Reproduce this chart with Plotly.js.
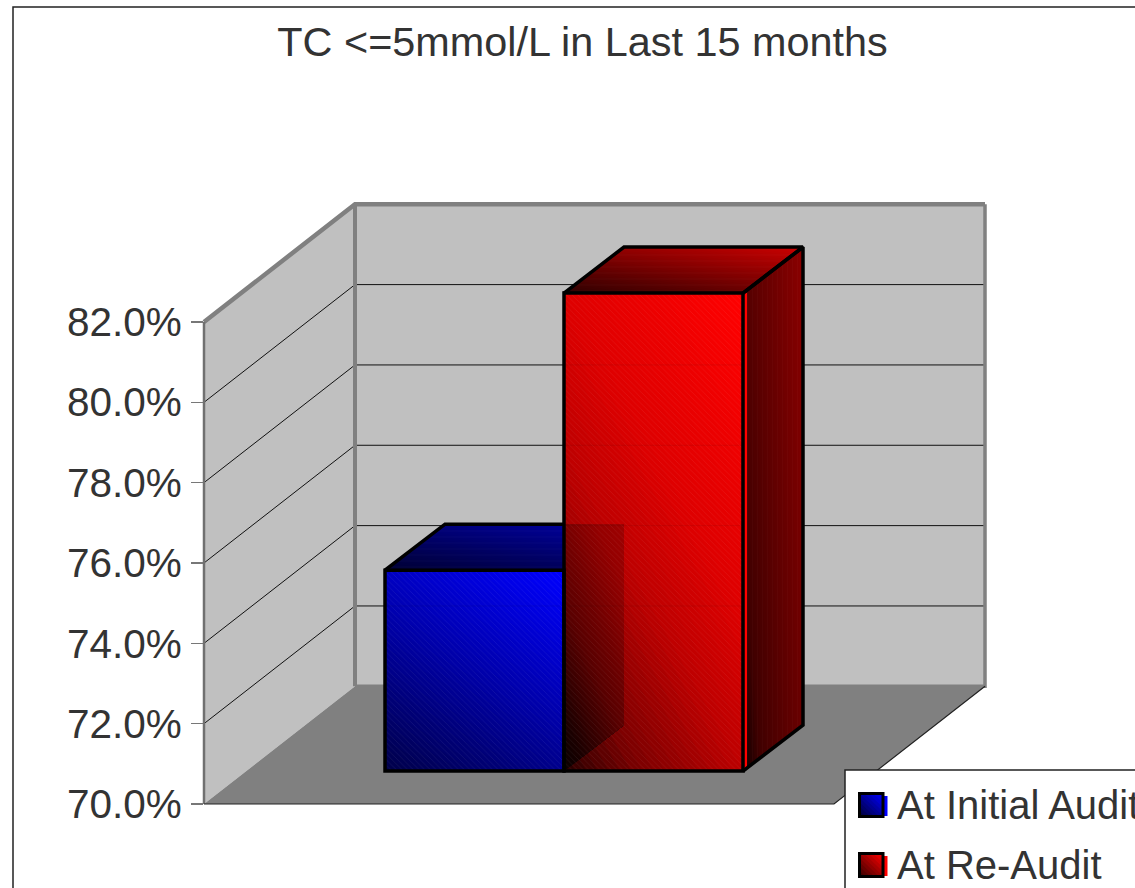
<!DOCTYPE html>
<html>
<head>
<meta charset="utf-8">
<script src="https://cdn.plot.ly/plotly-3.0.1.min.js"></script>
<style>html,body{margin:0;padding:0;background:#fff;overflow:hidden}#chart{width:1135px;height:888px}</style>
</head>
<body>
<div id="chart"></div>
<script>
// ---- data ----
const seriesNames = ['At Initial Audit', 'At Re-Audit'];
const seriesValues = [75.0, 81.9];
const tickValues = [70, 72, 74, 76, 78, 80, 82];
const tickLabels = ['70.0%', '72.0%', '74.0%', '76.0%', '78.0%', '80.0%', '82.0%'];
const chartTitle = 'TC <=5mmol/L in Last 15 months';

// ---- drawing geometry (x axis is in plot units, y axis is in percent) ----
const W = 1135, H = 888;
const PX_PER_UNIT = 40.17, Y70_PX = 804;
const yRange = [70 - (H - Y70_PX) / PX_PER_UNIT, 70 + Y70_PX / PX_PER_UNIT];
const BASE = 70, TOP = 82;
const FLOOR_L = 204, FLOOR_R = 834, WALL_DX = 151, WALL_DY = 2.93;
const BAR_L = 385, BAR_W = 179, BAR_DX = 60, BAR_DY = 1.145, BAR_SHIFT = 0.82;
const FONT = '"Liberation Sans", Arial, sans-serif';
const FONT_SIZE = 40.5, TITLE_SIZE = 41.4, LEGEND_SIZE = 40, TEXT_COLOR = '#333333';

const traces = [];
function poly(pts, color) {
  traces.push({type:'scatter', mode:'lines', x:pts.map(p=>p[0]), y:pts.map(p=>p[1]), fill:'toself',
    fillcolor:color, line:{width:0}, hoverinfo:'skip', showlegend:false});
}
function line(pts, color, width) {
  traces.push({type:'scatter', mode:'lines', x:pts.map(p=>p?p[0]:null), y:pts.map(p=>p?p[1]:null),
    line:{color:color, width:width}, hoverinfo:'skip', showlegend:false, connectgaps:false});
}
function clip(pts, f, t0) {            // keep polygon part where f(p) >= t0
  const out = [];
  for (let i = 0; i < pts.length; i++) {
    const a = pts[i], b = pts[(i + 1) % pts.length];
    const fa = f(a) - t0, fb = f(b) - t0;
    if (fa >= 0) out.push(a);
    if ((fa >= 0) !== (fb >= 0)) {
      const k = fa / (fa - fb);
      out.push([a[0] + (b[0]-a[0]) * k, a[1] + (b[1]-a[1]) * k]);
    }
  }
  return out;
}
function ramp(stops, t) {
  for (let i = 1; i < stops.length; i++) {
    if (t <= stops[i][0]) {
      const k = (t - stops[i-1][0]) / (stops[i][0] - stops[i-1][0]);
      return stops[i-1][1] + (stops[i][1] - stops[i-1][1]) * k;
    }
  }
  return stops[stops.length-1][1];
}
function shade(rgb, b) {
  return 'rgb(' + rgb.map(c => Math.round(c * b)).join(',') + ')';
}
function gradFace(pts, wx, wy, rgb, stops) {
  const n = 40;
  const xs = pts.map(p=>p[0]), ys = pts.map(p=>p[1]);
  const x0 = Math.min(...xs), x1 = Math.max(...xs), y0 = Math.min(...ys), y1 = Math.max(...ys);
  const f = p => wx * (p[0]-x0)/(x1-x0) + wy * (p[1]-y0)/(y1-y0);
  for (let i = 0; i < n; i++) {
    const t = i / n, part = i === 0 ? pts : clip(pts, f, t);
    if (part.length > 2) poly(part, shade(rgb, ramp(stops, t + 0.5/n)));
  }
}
function hatch(f, s, size, alpha) {
  traces.push({type:'scatter', mode:'lines', x:f.map(p=>p[0]), y:f.map(p=>p[1]), fill:'toself',
    fillcolor:'rgba(0,0,0,0)', line:{width:0}, hoverinfo:'skip', showlegend:false,
    fillpattern:{shape:s, size:size, solidity:.1, fgcolor:'rgba(255,255,255,'+alpha+')', bgcolor:'rgba(0,0,0,0)'}});
}

// ---- walls and floor ----
const fw = (x, v) => [x, v];
const bw = (x, v) => [x + WALL_DX, v + WALL_DY];
poly([fw(FLOOR_L,BASE), fw(FLOOR_L,TOP), bw(FLOOR_L,TOP), bw(FLOOR_L,BASE)], '#c0c0c0');
poly([bw(FLOOR_L,BASE), bw(FLOOR_L,TOP), bw(FLOOR_R,TOP), bw(FLOOR_R,BASE)], '#c0c0c0');
poly([fw(FLOOR_L,BASE), fw(FLOOR_R,BASE), bw(FLOOR_R,BASE), bw(FLOOR_L,BASE)], '#808080');
const gridPts = [];
tickValues.slice(1, -1).forEach(v => gridPts.push(fw(FLOOR_L,v), bw(FLOOR_L,v), bw(FLOOR_R,v), null));
line(gridPts, '#111', 1);
line([bw(FLOOR_R,TOP), bw(FLOOR_R,BASE), bw(FLOOR_L,BASE)], '#808080', 3.5);
line([fw(FLOOR_L,TOP), bw(FLOOR_L,TOP), bw(FLOOR_R,TOP)], '#808080', 4.5);
line([bw(FLOOR_L,TOP), bw(FLOOR_L,BASE)], '#808080', 4);
line([fw(FLOOR_L,BASE), fw(FLOOR_L,TOP)], '#707070', 2.5);
line([fw(FLOOR_L,BASE), fw(FLOOR_R,BASE), bw(FLOOR_R,BASE)], '#222', 1.2);

// ---- bar faces, computed from the values ----
const barGeom = seriesValues.map((v, i) => {
  const L = BAR_L + i * BAR_W, R = L + BAR_W, b = BASE + BAR_SHIFT, t = v + BAR_SHIFT;
  return {
    front:[[L,b],[R,b],[R,t],[L,t]],
    top:[[L,t],[R,t],[R+BAR_DX,t+BAR_DY],[L+BAR_DX,t+BAR_DY]],
    side:[[R,b],[R+BAR_DX,b+BAR_DY],[R+BAR_DX,t+BAR_DY],[R,t]],
    L:L, R:R, b:b, t:t
  };
});
const BLUE = [0,0,255], RED = [255,0,0];
// first bar
gradFace(barGeom[0].top, .45, .55, BLUE, [[0,.2],[1,.65]]);
hatch(barGeom[0].top, '-', 6, .04);
line([barGeom[0].top[0], barGeom[0].top[3], barGeom[0].top[2]], '#000', 3.5);
gradFace(barGeom[0].front, .35, .65, BLUE, [[0,.28],[.5,.66],[1,1]]);
// second bar
gradFace(barGeom[1].top, .45, .55, RED, [[0,.18],[1,.8]]);
hatch(barGeom[1].top, '-', 6, .04);
gradFace(barGeom[1].side, .6, .4, RED, [[0,.05],[.18,.25],[.53,.38],[.78,.47],[1,.55]]);
hatch(barGeom[1].side, '|', 5, .035);
const g1 = barGeom[1], g0 = barGeom[0];
poly([[g1.R,g1.b],[g1.R+4,g1.b+0.1],[g1.R+4,g1.t],[g1.R,g1.t]], '#ff0000');
gradFace(g1.front, .4, .6, RED, [[0,.15],[.17,.48],[.4,.74],[.6,.87],[1,1]]);
// first bar's depth seen through the second bar's front
gradFace([[g0.R,g0.b],[g0.R+BAR_DX,g0.b+BAR_DY],[g0.R+BAR_DX,g0.t+BAR_DY],[g0.R,g0.t+BAR_DY]],
  .35, .65, RED, [[0,.03],[.135,.1],[.445,.35],[.59,.43],[.835,.58],[1,.62]]);
// wall gridlines faintly visible through the fronts
barGeom.forEach(g => {
  const pts = [];
  tickValues.slice(1, -1).forEach(v => {
    const y = v + WALL_DY;
    if (y > g.b && y < g.t) pts.push([g.L,y],[g.R,y],null);
  });
  if (pts.length) line(pts, 'rgba(0,0,0,0.08)', 1);
});
// depth edges of the second bar
line([g1.top[0], g1.top[3], g1.top[2], g1.top[1]], '#000', 3.5);
line([g1.side[3], g1.side[2], g1.side[1], g1.side[0]], '#000', 3.5);

// ---- front of the bars: real bar trace on a y axis shifted forward ----
traces.push({type:'bar', yaxis:'y2', x:seriesValues.map((v,i)=>BAR_L + BAR_W*(i+.5)),
  y:seriesValues.map(v=>v-BASE), base:seriesValues.map(()=>BASE), width:seriesValues.map(()=>BAR_W),
  text:seriesNames, textposition:'none', hoverinfo:'text', showlegend:false,
  marker:{color:'rgba(0,0,0,0)', line:{color:'#000', width:3.5},
    pattern:{shape:'\\', size:4, solidity:.14, fgcolor:'rgba(255,255,255,0.1)', bgcolor:'rgba(0,0,0,0)'}}});

// ---- frame and legend as layout items ----
const px = x => x / W, py = y => (H - y) / H;
const shapes = [];
function rect(x0, y0, x1, y1, fill, lineColor, lw) {
  shapes.push({type:'rect', xref:'paper', yref:'paper', x0:px(x0), x1:px(x1), y0:py(y0), y1:py(y1),
    fillcolor:fill, line:{color:lineColor, width:lw}, layer:'above'});
}
rect(13, 7, 1200, 950, 'rgba(0,0,0,0)', '#222', 1.5);
rect(845, 770, 1200, 950, '#ffffff', '#222', 1.5);
function legendKey(y, rgb) {
  rect(884, y+4, 887.5, y+24, shade(rgb,1), 'rgba(0,0,0,0)', 0);
  const x0 = 860, x1 = 882.5, y0 = y+2, y1 = y+23.5;
  const n = 10;
  for (let i = 0; i < n; i++) {
    const k = i / n;
    const f = p => (p[0]-x0)/(x1-x0) + (y1-p[1])/(y1-y0);
    const part = clip([[x0,y1],[x1,y1],[x1,y0],[x0,y0]], f, 2*k);
    if (part.length > 2) shapes.push({type:'path', xref:'paper', yref:'paper', layer:'above', line:{width:0},
      fillcolor:shade(rgb, .22 + .78*(k+.05)),
      path:'M' + part.map(p=>px(p[0])+','+py(p[1])).join('L') + 'Z'});
  }
  shapes.push({type:'rect', xref:'paper', yref:'paper', layer:'above', x0:px(859.5), x1:px(883), y0:py(y+1.5), y1:py(y+24.5),
    fillcolor:'rgba(0,0,0,0)', line:{color:'#000', width:3}});
}
legendKey(792, BLUE);
legendKey(852, RED);
const annotations = seriesNames.map((n, i) => ({
  text:n, xref:'paper', yref:'paper', x:px(895), y:py(805 + i*60), xanchor:'left', yanchor:'middle',
  showarrow:false, align:'left', font:{family:FONT, size:LEGEND_SIZE, color:TEXT_COLOR}
}));

const layout = {
  width:W, height:H, margin:{l:0,r:0,t:0,b:0,autoexpand:false}, paper_bgcolor:'#fff', plot_bgcolor:'rgba(0,0,0,0)',
  showlegend:false, barmode:'overlay', hovermode:'closest',
  title:{text:chartTitle, xref:'paper', yref:'paper', x:582.5/W, xanchor:'center', y:py(42), yanchor:'middle',
    font:{family:FONT, size:TITLE_SIZE, color:TEXT_COLOR}},
  xaxis:{range:[0,W], visible:false, fixedrange:true},
  yaxis:{range:yRange, anchor:'free', position:px(203), tickmode:'array', tickvals:tickValues, ticktext:tickLabels,
    showgrid:false, zeroline:false, showline:false,
    ticks:'outside', ticklen:12, tickwidth:1.5, tickcolor:'#777', ticklabelstandoff:1,
    tickfont:{family:FONT, size:FONT_SIZE, color:TEXT_COLOR}, fixedrange:true},
  yaxis2:{range:[yRange[0]-BAR_SHIFT, yRange[1]-BAR_SHIFT], overlaying:'y', visible:false, fixedrange:true},
  shapes:shapes, annotations:annotations
};
Plotly.newPlot('chart', traces, layout, {staticPlot:true, displayModeBar:false});
</script>
</body>
</html>
